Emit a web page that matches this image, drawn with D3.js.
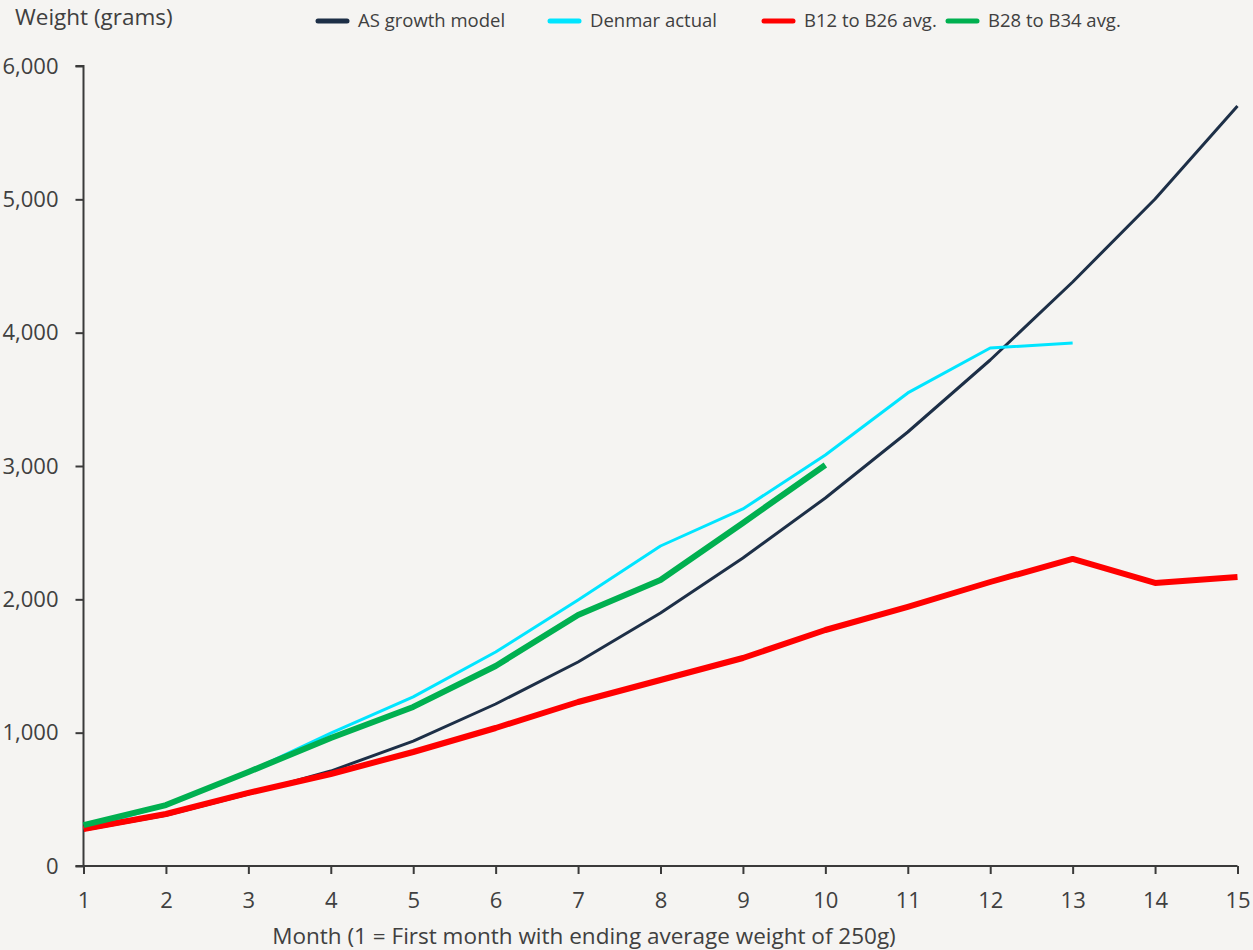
<!DOCTYPE html>
<html>
<head>
<meta charset="utf-8">
<script src="https://cdn.jsdelivr.net/npm/d3@7"></script>
<style>
  html, body { margin: 0; padding: 0; background: #f5f4f2; }
  svg { display: block; }
  text { font-family: "Open Sans", "Noto Sans", sans-serif; fill: #404040; }
</style>
</head>
<body>
<svg id="chart" width="1253" height="950"></svg>
<script>
// Month numbers on the x axis
const months = [1, 2, 3, 4, 5, 6, 7, 8, 9, 10, 11, 12, 13, 14, 15];

// Average weight (g) at the end of each month
const asGrowthModel = [270, 380, 540, 712, 937, 1215, 1530, 1897, 2310, 2760, 3255, 3795, 4380, 5003, 5700];
const denmarActual  = [280, 456, 705, 997, 1268, 1605, 1995, 2400, 2678, 3083, 3548, 3885, 3923];
const b12ToB26Avg   = [277, 390, 548, 690, 855, 1035, 1230, 1395, 1560, 1770, 1943, 2130, 2303, 2123, 2168];
const b28ToB34Avg   = [307, 457, 705, 960, 1193, 1500, 1883, 2145, 2573, 3008];

const yTicks = [0, 1000, 2000, 3000, 4000, 5000, 6000];

const series = [
  { name: "AS growth model", values: asGrowthModel, color: "#1d2f47", width: 3 },
  { name: "Denmar actual",   values: denmarActual,  color: "#00e5ff", width: 3 },
  { name: "B12 to B26 avg.", values: b12ToB26Avg,   color: "#ff0000", width: 6 },
  { name: "B28 to B34 avg.", values: b28ToB34Avg,   color: "#00b050", width: 6 }
];

const svg = d3.select("#chart");
const x = d3.scaleLinear().domain([1, 15]).range([83.5, 1237.5]);
const y = d3.scaleLinear().domain([0, 6000]).range([866, 66]);
const axisColor = "#3a3a3a";
const font = '"Open Sans", "Noto Sans", sans-serif';

// y axis
const yAxis = svg.append("g")
  .attr("transform", `translate(${x(1)},0)`)
  .call(d3.axisLeft(y).tickValues(yTicks).tickSize(8).tickPadding(17)
    .tickFormat(d3.format(",")));
// x axis
const xAxis = svg.append("g")
  .attr("transform", `translate(0,${y(0)})`)
  .call(d3.axisBottom(x).tickValues(months).tickSize(8).tickPadding(18)
    .tickFormat(d3.format("d")));

[yAxis, xAxis].forEach(g => {
  g.select(".domain").attr("stroke", axisColor).attr("stroke-width", 2);
  g.selectAll(".tick line").attr("stroke", axisColor).attr("stroke-width", 2);
  g.selectAll(".tick text").attr("font-size", 22).attr("fill", "#404040")
    .style("font-family", font);
});
// plain axis lines without the default end caps
yAxis.select(".domain").attr("d", `M-8,${y(6000)}H0V${y(0)}`);
xAxis.select(".domain").attr("d", `M${x(1) - 8},0H${x(15)}`);
xAxis.selectAll(".tick text").attr("dy", "0.71em");

// lines
const line = d3.line()
  .x((d, i) => x(months[i]))
  .y(d => y(d));

svg.append("g").selectAll("path")
  .data(series)
  .join("path")
  .attr("d", s => line(s.values))
  .attr("fill", "none")
  .attr("stroke", s => s.color)
  .attr("stroke-width", s => s.width)
  .attr("stroke-linejoin", "round");

// axis titles
svg.append("text")
  .attr("x", 15).attr("y", 25)
  .attr("font-size", 22.5)
  .text("Weight (grams)");

svg.append("text")
  .attr("x", 584).attr("y", 944)
  .attr("text-anchor", "middle")
  .attr("font-size", 22.5)
  .text("Month (1 = First month with ending average weight of 250g)");

// legend
const legendX = [318, 550, 764, 948];
const legend = svg.append("g").selectAll("g")
  .data(series)
  .join("g")
  .attr("transform", (d, i) => `translate(${legendX[i]},21)`);
legend.append("line")
  .attr("x1", 0).attr("x2", 29)
  .attr("stroke", d => d.color)
  .attr("stroke-width", 5)
  .attr("stroke-linecap", "round");
legend.append("text")
  .attr("x", 40).attr("y", 0)
  .attr("dy", "0.35em")
  .attr("font-size", 18.5)
  .text(d => d.name);
</script>
</body>
</html>
